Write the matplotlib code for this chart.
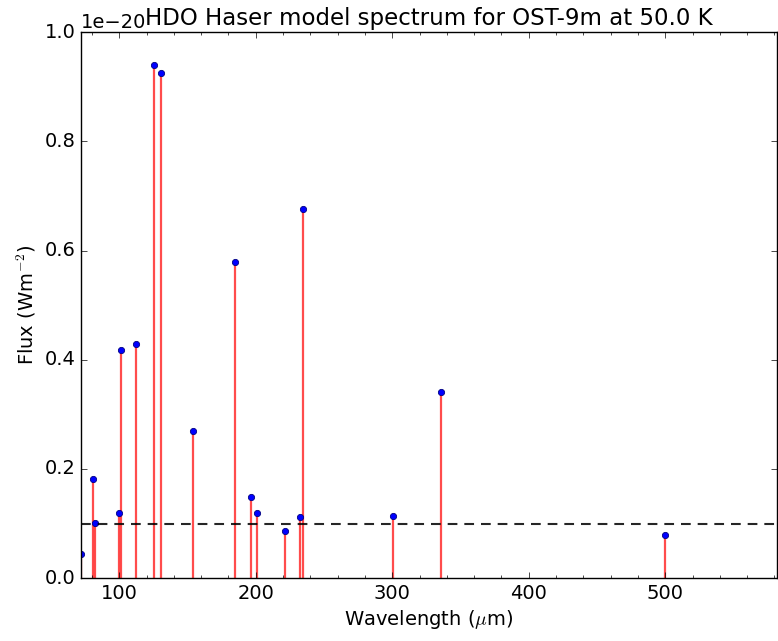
import matplotlib
matplotlib.use("Agg")
import matplotlib.pyplot as plt
import numpy as np
from matplotlib.ticker import AutoMinorLocator, MultipleLocator

plt.style.use("classic")

# Line positions (micron) and fluxes (W m^-2)
wavelength = np.array([71.9, 80.4, 82.4, 100.0, 101.2, 112.3, 125.7, 130.6,
                       154.3, 184.9, 196.7, 200.8, 221.6, 232.6, 234.8,
                       300.7, 336.0, 500.0])
flux = np.array([0.044, 0.181, 0.101, 0.119, 0.418, 0.429, 0.940, 0.925,
                 0.269, 0.579, 0.148, 0.119, 0.086, 0.112, 0.676,
                 0.114, 0.341, 0.079]) * 1e-20
threshold = 0.1e-20

fig = plt.figure(figsize=(7.78, 6.41), dpi=100, facecolor="white")
ax = fig.add_axes([0.104, 0.098, 0.895, 0.852])

ax.vlines(wavelength, 0, flux, color="red", lw=1.6, alpha=0.7)
ax.plot(wavelength, flux, "o", color="blue", mec="navy", ms=4.5, mew=0.6)
ax.axhline(threshold, color="black", ls="--", lw=1.5, dashes=(7, 5), alpha=0.85)

ax.set_xlim(71.9, 582)
ax.set_ylim(0, 1e-20)
ax.xaxis.set_major_locator(MultipleLocator(100))
ax.xaxis.set_minor_locator(AutoMinorLocator(5))
ax.yaxis.set_major_locator(MultipleLocator(0.2e-20))
ax.tick_params(which="both", direction="in")
ax.tick_params(labelsize=14)

ax.set_xlabel(r"Wavelength ($\mu$m)", fontsize=14, labelpad=4)
ax.set_ylabel(r"Flux (Wm$^{-2}$)", fontsize=14)
ax.set_title("HDO Haser model spectrum for OST-9m at 50.0 K", fontsize=16.5,
             pad=5)
ax.yaxis.get_offset_text().set_fontsize(14)

fig.savefig("out.png", dpi=100, facecolor="white")
